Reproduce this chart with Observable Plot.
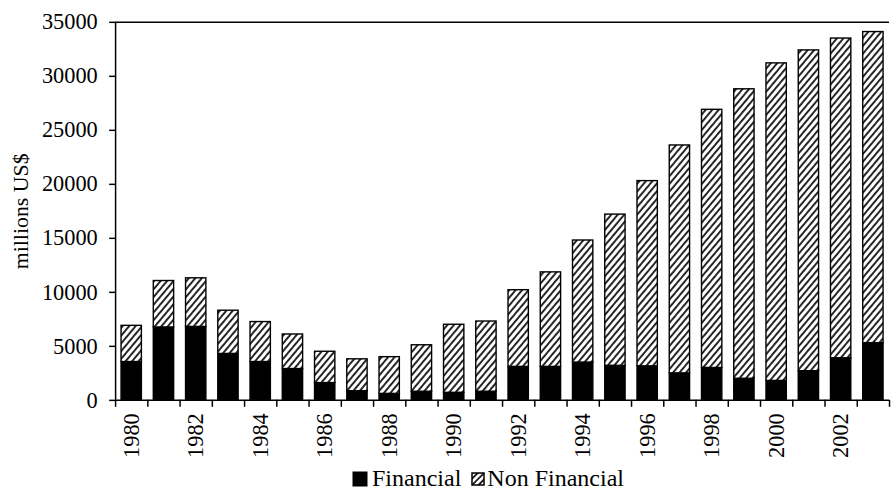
<!DOCTYPE html>
<html>
<head>
<meta charset="utf-8">
<script src="https://cdn.jsdelivr.net/npm/d3@7"></script>
<script src="https://cdn.jsdelivr.net/npm/@observablehq/plot@0.6"></script>
<style>
  html, body { margin: 0; padding: 0; background: #fff; overflow: hidden; width: 891px; height: 491px; }
  #chart { position: relative; width: 891px; height: 491px; overflow: hidden; }
  #legend { position: absolute; top: 465px; left: 352px; font-family: "Liberation Serif", "Times New Roman", serif; font-size: 24px; color: #000; display: flex; align-items: center; white-space: nowrap; }
  #legend svg { display: block; }
</style>
</head>
<body>
<div id="chart"></div>
<script>
const years = [1980,1981,1982,1983,1984,1985,1986,1987,1988,1989,1990,1991,1992,1993,1994,1995,1996,1997,1998,1999,2000,2001,2002,2003];
const financial = [3550,6750,6800,4300,3550,2900,1600,850,600,800,700,800,3100,3100,3500,3200,3150,2500,3000,2000,1800,2700,3900,5300];
const nonFinancial = [3350,4300,4500,4000,3700,3200,2900,2950,3400,4300,6300,6500,7100,8750,11300,14000,17150,21100,23900,26800,29400,29700,29600,28800];
const seriesNames = ["Financial", "Non Financial"];
const yTicks = [0,5000,10000,15000,20000,25000,30000,35000];
const xLabelYears = [1980,1982,1984,1986,1988,1990,1992,1994,1996,1998,2000,2002];
const yLabel = "millions US$";

const rows = [];
years.forEach((y, i) => {
  rows.push({year: y, series: seriesNames[0], value: financial[i]});
  rows.push({year: y, series: seriesNames[1], value: nonFinancial[i]});
});
const bounds = [years[0] - 0.5, ...years.map(y => y + 0.5)];

const font = '"Liberation Serif", "Times New Roman", serif';
const plot = Plot.plot({
  width: 898,
  height: 461,
  marginLeft: 116,
  marginRight: 2,
  marginTop: 22,
  marginBottom: 58,
  style: {fontFamily: font, fontSize: "22px", color: "#000", background: "#fff"},
  x: {type: "linear", domain: [years[0] - 0.5, years[years.length - 1] + 0.5], axis: null},
  y: {domain: [0, 35000], axis: null},
  marks: [
    Plot.rectY(rows, Plot.stackY({
      x1: d => d.year - 0.5,
      x2: d => d.year + 0.5,
      y: "value",
      z: "series",
      order: seriesNames,
      insetLeft: 6,
      insetRight: 6,
      fill: d => d.series === seriesNames[0] ? "#000" : "url(#hatch)",
      stroke: "#000",
      strokeWidth: 1.4
    })),
    Plot.ruleY([35000], {stroke: "#000", strokeWidth: 1.5}),
    Plot.ruleY([0], {stroke: "#000", strokeWidth: 1.5}),
    Plot.ruleX([years[0] - 0.5], {stroke: "#000", strokeWidth: 1.5}),
    Plot.axisY(yTicks, {tickSize: 6, tickPadding: 12, tickFormat: d => String(d), fontSize: 22.5, label: null, strokeWidth: 1.5}),
    Plot.axisX(bounds, {tickSize: 7, tickFormat: () => "", label: null, strokeWidth: 1.5}),
    Plot.axisX(xLabelYears, {tickSize: 0, tickPadding: 13, tickRotate: -90, tickFormat: d => String(d), fontSize: 22.5, label: null}),
    Plot.text([yLabel], {frameAnchor: "left", textAnchor: "middle", rotate: -90, dx: -95, fontSize: 22, fill: "#000"})
  ]
});

const svg = d3.select(plot);
const defs = svg.insert("defs", ":first-child");
const pat = defs.append("pattern")
  .attr("id", "hatch").attr("patternUnits", "userSpaceOnUse")
  .attr("width", 5).attr("height", 5)
  .attr("patternTransform", "rotate(40)");
pat.append("rect").attr("width", 5).attr("height", 5).attr("fill", "#fff");
pat.append("line").attr("x1", 1).attr("y1", 0).attr("x2", 1).attr("y2", 5).attr("stroke", "#000").attr("stroke-width", 1.7);

const chart = document.getElementById("chart");
chart.appendChild(plot);

const legend = document.createElement("div");
legend.id = "legend";
legend.innerHTML = `
<svg width="16" height="16"><rect x="0.5" y="0.5" width="15" height="15" fill="#000"/></svg>
<span style="margin-left:4px">${seriesNames[0]}</span>
<svg width="14" height="14" style="margin-left:10px"><defs><pattern id="hatchL" patternUnits="userSpaceOnUse" width="4.5" height="4.5" patternTransform="rotate(45)"><rect width="4.5" height="4.5" fill="#fff"/><line x1="1" y1="0" x2="1" y2="4.5" stroke="#000" stroke-width="1.6"/></pattern></defs><rect x="1" y="1" width="12" height="12" fill="url(#hatchL)" stroke="#000" stroke-width="1.5"/></svg>
<span style="margin-left:2px">${seriesNames[1]}</span>`;
chart.appendChild(legend);
</script>
</body>
</html>
